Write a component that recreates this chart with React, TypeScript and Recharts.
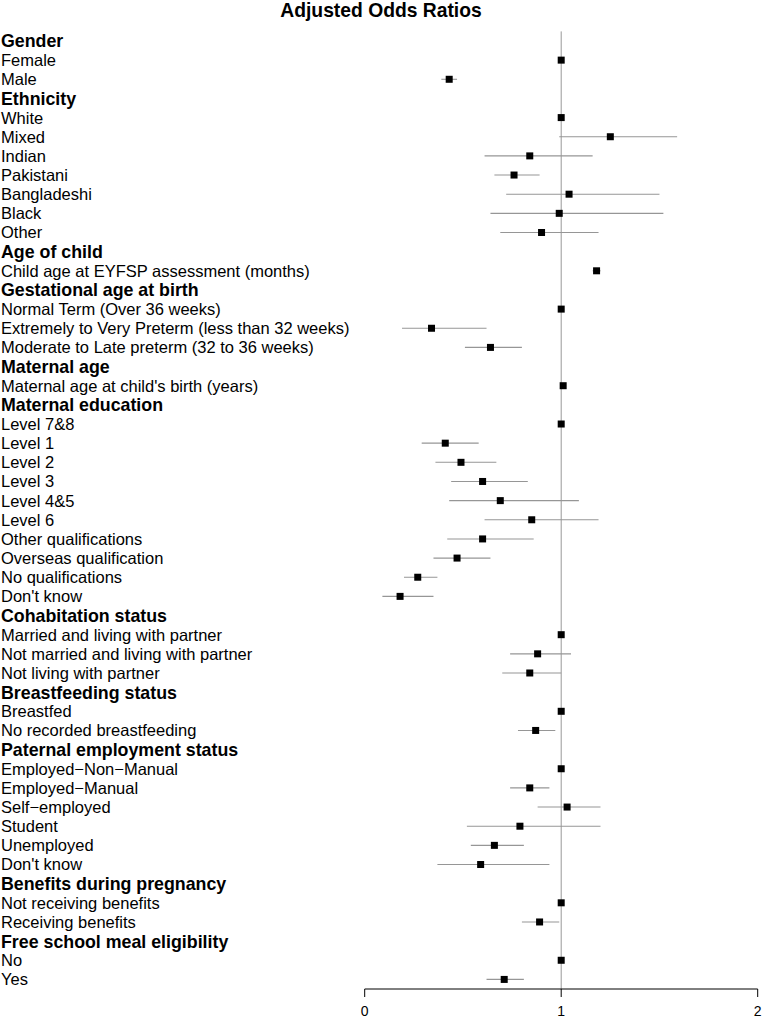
import React from "react";
import {
  ScatterChart,
  Scatter,
  XAxis,
  YAxis,
  ErrorBar,
  ReferenceLine,
} from "recharts";

const FONT = "'Liberation Sans', Arial, Helvetica, sans-serif";

// one entry per row, top to bottom; null odds ratio = section heading
const rowLabels = [
  "Gender",
  "Female",
  "Male",
  "Ethnicity",
  "White",
  "Mixed",
  "Indian",
  "Pakistani",
  "Bangladeshi",
  "Black",
  "Other",
  "Age of child",
  "Child age at EYFSP assessment (months)",
  "Gestational age at birth",
  "Normal Term (Over 36 weeks)",
  "Extremely to Very Preterm (less than 32 weeks)",
  "Moderate to Late preterm (32 to 36 weeks)",
  "Maternal age",
  "Maternal age at child's birth (years)",
  "Maternal education",
  "Level 7&8",
  "Level 1",
  "Level 2",
  "Level 3",
  "Level 4&5",
  "Level 6",
  "Other qualifications",
  "Overseas qualification",
  "No qualifications",
  "Don't know",
  "Cohabitation status",
  "Married and living with partner",
  "Not married and living with partner",
  "Not living with partner",
  "Breastfeeding status",
  "Breastfed",
  "No recorded breastfeeding",
  "Paternal employment status",
  "Employed\u2212Non\u2212Manual",
  "Employed\u2212Manual",
  "Self\u2212employed",
  "Student",
  "Unemployed",
  "Don't know",
  "Benefits during pregnancy",
  "Not receiving benefits",
  "Receiving benefits",
  "Free school meal eligibility",
  "No",
  "Yes",
];

const oddsRatios: (number | null)[] = [
  null, 1.0, 0.43,
  null, 1.0, 1.25, 0.84, 0.76, 1.04, 0.99, 0.9,
  null, 1.18,
  null, 1.0, 0.34, 0.64,
  null, 1.01,
  null, 1.0, 0.41, 0.49, 0.6, 0.69, 0.85, 0.6, 0.47, 0.27, 0.18,
  null, 1.0, 0.88, 0.84,
  null, 1.0, 0.87,
  null, 1.0, 0.84, 1.03, 0.79, 0.66, 0.59,
  null, 1.0, 0.89,
  null, 1.0, 0.71,
];

const ciLower: (number | null)[] = [
  null, 1.0, 0.39,
  null, 1.0, 0.99, 0.61, 0.66, 0.72, 0.64, 0.69,
  null, 1.16,
  null, 1.0, 0.19, 0.51,
  null, 1.005,
  null, 1.0, 0.29, 0.36, 0.44, 0.43, 0.61, 0.42, 0.35, 0.2, 0.09,
  null, 1.0, 0.74, 0.7,
  null, 1.0, 0.78,
  null, 1.0, 0.74, 0.88, 0.52, 0.54, 0.37,
  null, 1.0, 0.8,
  null, 1.0, 0.62,
];

const ciUpper: (number | null)[] = [
  null, 1.0, 0.47,
  null, 1.0, 1.59, 1.16, 0.89, 1.5, 1.52, 1.19,
  null, 1.2,
  null, 1.0, 0.62, 0.8,
  null, 1.013,
  null, 1.0, 0.58, 0.67, 0.83, 1.09, 1.19, 0.86, 0.64, 0.37, 0.35,
  null, 1.0, 1.05, 1.0,
  null, 1.0, 0.97,
  null, 1.0, 0.94, 1.2, 1.2, 0.81, 0.94,
  null, 1.0, 0.99,
  null, 1.0, 0.81,
];

const xTicks = [0, 1, 2];

const rowIndex = rowLabels.map((_, i) => i);

const points = rowIndex
  .filter((i) => oddsRatios[i] !== null)
  .map((i) => ({
    row: i,
    or: oddsRatios[i] as number,
    err: [
      (oddsRatios[i] as number) - (ciLower[i] as number),
      (ciUpper[i] as number) - (oddsRatios[i] as number),
    ],
  }));

const RowLabel = (props: any) => {
  const i = props.payload.value as number;
  const heading = oddsRatios[i] === null;
  return (
    <text
      x={1}
      y={props.y}
      dy="0.36em"
      textAnchor="start"
      fill="#000"
      fontFamily={FONT}
      fontSize={heading ? 17.8 : 16.5}
      fontWeight={heading ? "bold" : "normal"}
    >
      {rowLabels[i]}
    </text>
  );
};

const Square = (props: any) => (
  <rect x={props.cx - 3.5} y={props.cy - 3.5} width={7} height={7} fill="#000" />
);

export default function App() {
  return (
    <div style={{ position: "absolute", left: 0, top: 0, width: 762, height: 1022, background: "#fff" }}>
      <div
        style={{
          position: "absolute",
          top: 0,
          left: 0,
          width: 762,
          textAlign: "center",
          fontFamily: FONT,
          fontWeight: "bold",
          fontSize: 19.3,
          lineHeight: "22px",
        }}
      >
        Adjusted Odds Ratios
      </div>
      <ScatterChart
        width={762}
        height={1022}
        margin={{ top: 31.4, right: 4.3, bottom: 3, left: 0 }}
      >
        <XAxis
          type="number"
          dataKey="or"
          domain={[0, 2]}
          ticks={xTicks}
          allowDataOverflow
          height={30}
          tickSize={8}
          tickMargin={9}
          axisLine={{ stroke: "#000" }}
          tickLine={{ stroke: "#000" }}
          tick={{ fill: "#000", fontSize: 14, fontFamily: FONT }}
        />
        <YAxis
          type="number"
          dataKey="row"
          domain={[-0.5, 49.5]}
          reversed
          ticks={rowIndex}
          interval={0}
          width={364.7}
          axisLine={false}
          tickLine={false}
          tick={<RowLabel />}
        />
        <ReferenceLine x={1} stroke="#999999" strokeWidth={1} />
        <Scatter data={points} shape={<Square />} isAnimationActive={false}>
          <ErrorBar
            dataKey="err"
            direction="x"
            width={0}
            stroke="#969696"
            strokeWidth={1.1}
            isAnimationActive={false}
          />
        </Scatter>
      </ScatterChart>
    </div>
  );
}
